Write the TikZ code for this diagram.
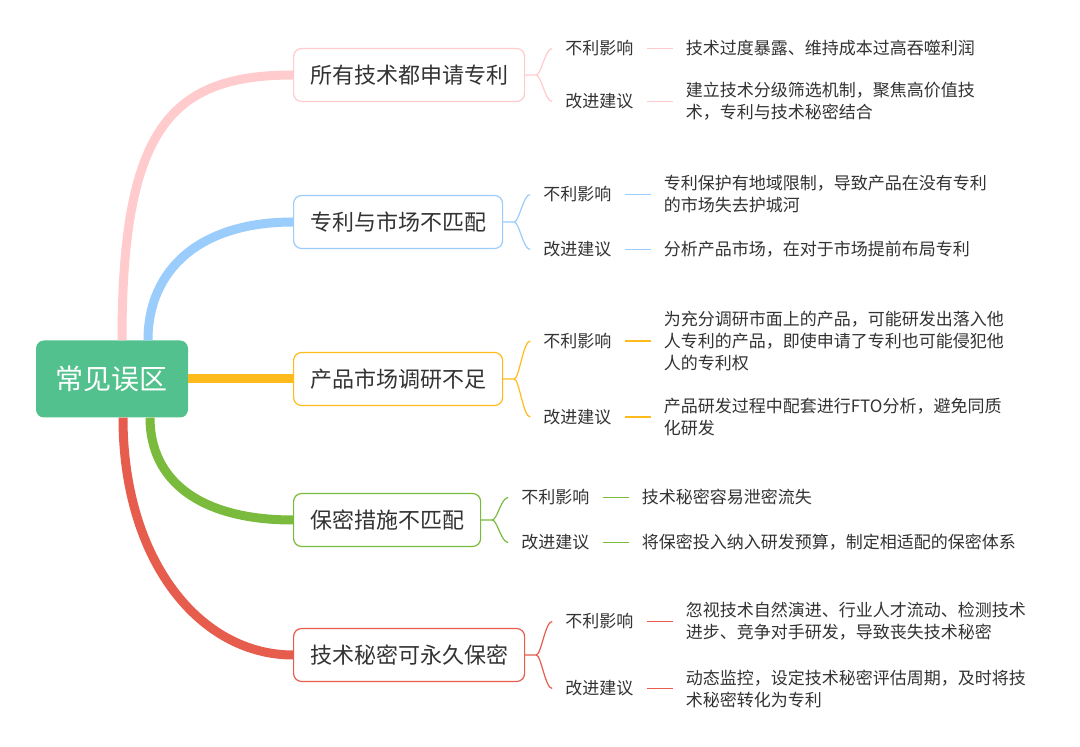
\documentclass[tikz,border=0pt]{standalone}
\usepackage{fontspec}
\setmainfont{Noto Sans CJK SC}
\usepackage{tikz}
\usetikzlibrary{positioning}
\definecolor{rootgreen}{HTML}{52C18D}
\definecolor{cpink}{HTML}{FFCBCD}
\definecolor{cblue}{HTML}{9ACCFC}
\definecolor{cyellow}{HTML}{FFBB1C}
\definecolor{cgreen}{HTML}{7ABB3E}
\definecolor{cred}{HTML}{E65D4E}
\definecolor{txt}{HTML}{333333}

\begin{document}
\begin{tikzpicture}[x=1pt,y=1pt,
    rootbox/.style={rounded corners=8pt,fill=rootgreen,text=white,minimum width=152pt,minimum height=77pt,font=\fontsize{28}{34}\selectfont},
    topic/.style={draw=#1,line width=1.2pt,rounded corners=8pt,fill=white,anchor=west,minimum height=53pt,inner xsep=16.5pt,text=txt,font=\fontsize{22}{26}\selectfont},
    subtopic/.style={inner xsep=13pt,inner ysep=2pt,text=txt,font=\fontsize{17}{22}\selectfont},
    detailtext/.style={subtopic,align=left},
    limb/.style={draw=#1,line width=9pt},
    twig/.style={draw=#1,line width=1.2pt}]
                                      \useasboundingbox (0,0) rectangle (1080,747);
                                      \fill[white] (0,0) rectangle (1080,747);
                                      \node[rootbox](root)at(112,368){常见误区};
                                      \node[topic=cpink](b1)at(293,672){所有技术都申请专利};
                                      \node[topic=cblue](b2)at(293,525){专利与市场不匹配};
                                      \node[topic=cyellow](b3)at(293,368){产品市场调研不足};
                                      \node[topic=cgreen](b4)at(293,227){保密措施不匹配};
                                      \node[topic=cred](b5)at(293,92){技术秘密可永久保密};
                                      \draw[limb=cpink]([xshift=10pt]root.north) .. controls +(0,211) and +(-123,0) .. (b1.west);
                                      \draw[limb=cblue]([xshift=36pt]root.north) .. controls +(0,71) and +(-93,0) .. (b2.west);
                                      \draw[limb=cyellow](root.east)--(b3.west);
                                      \draw[limb=cgreen]([xshift=38pt]root.south) .. controls +(0,-63) and +(-93,0) .. (b4.west);
                                      \draw[limb=cred]([xshift=11pt]root.south) .. controls +(0,-143) and +(-93,0) .. (b5.west);
                                      \node[subtopic,right=27pt of b1,yshift=26.5pt](b1a){不利影响};
                                      \node[subtopic,right=27pt of b1,yshift=-26.5pt](b1b){改进建议};
                                      \node[detailtext,right=26pt of b1a](d1a){技术过度暴露、维持成本过高吞噬利润};
                                      \node[detailtext,right=26pt of b1b](d1b){建立技术分级筛选机制，聚焦高价值技\\术，专利与技术秘密结合};
                                      \node[subtopic,right=27pt of b2,yshift=27.5pt](b2a){不利影响};
                                      \node[subtopic,right=27pt of b2,yshift=-27.5pt](b2b){改进建议};
                                      \node[detailtext,right=26pt of b2a](d2a){专利保护有地域限制，导致产品在没有专利\\的市场失去护城河};
                                      \node[detailtext,right=26pt of b2b](d2b){分析产品市场，在对于市场提前布局专利};
                                      \node[subtopic,right=27pt of b3,yshift=38pt](b3a){不利影响};
                                      \node[subtopic,right=27pt of b3,yshift=-38pt](b3b){改进建议};
                                      \node[detailtext,right=26pt of b3a](d3a){为充分调研市面上的产品，可能研发出落入他\\人专利的产品，即使申请了专利也可能侵犯他\\人的专利权};
                                      \node[detailtext,right=26pt of b3b](d3b){产品研发过程中配套进行FTO分析，避免同质\\化研发};
                                      \node[subtopic,right=27pt of b4,yshift=22.5pt](b4a){不利影响};
                                      \node[subtopic,right=27pt of b4,yshift=-22.5pt](b4b){改进建议};
                                      \node[detailtext,right=26pt of b4a](d4a){技术秘密容易泄密流失};
                                      \node[detailtext,right=26pt of b4b](d4b){将保密投入纳入研发预算，制定相适配的保密体系};
                                      \node[subtopic,right=27pt of b5,yshift=33.5pt](b5a){不利影响};
                                      \node[subtopic,right=27pt of b5,yshift=-33.5pt](b5b){改进建议};
                                      \node[detailtext,right=26pt of b5a](d5a){忽视技术自然演进、行业人才流动、检测技术\\进步、竞争对手研发，导致丧失技术秘密};
                                      \node[detailtext,right=26pt of b5b](d5b){动态监控，设定技术秘密评估周期，及时将技\\术秘密转化为专利};
                                      \draw[twig=cpink](b1.east)--++(11,0)coordinate(j1) .. controls +(5,0) and +(-7,0) .. (b1a.west) (j1) .. controls +(5,0) and +(-7,0) .. (b1b.west);
                                      \draw[twig=cblue](b2.east)--++(11,0)coordinate(j2) .. controls +(5,0) and +(-7,0) .. (b2a.west) (j2) .. controls +(5,0) and +(-7,0) .. (b2b.west);
                                      \draw[twig=cyellow](b3.east)--++(11,0)coordinate(j3) .. controls +(5,0) and +(-7,0) .. (b3a.west) (j3) .. controls +(5,0) and +(-7,0) .. (b3b.west);
                                      \draw[twig=cgreen](b4.east)--++(11,0)coordinate(j4) .. controls +(5,0) and +(-7,0) .. (b4a.west) (j4) .. controls +(5,0) and +(-7,0) .. (b4b.west);
                                      \draw[twig=cred](b5.east)--++(11,0)coordinate(j5) .. controls +(5,0) and +(-7,0) .. (b5a.west) (j5) .. controls +(5,0) and +(-7,0) .. (b5b.west);
                                      \draw[twig=cpink](b1a)--(d1a);
                                      \draw[twig=cpink](b1b)--(d1b);
                                      \draw[twig=cblue](b2a)--(d2a);
                                      \draw[twig=cblue](b2b)--(d2b);
                                      \draw[twig=cyellow](b3a)--(d3a);
                                      \draw[twig=cyellow](b3b)--(d3b);
                                      \draw[twig=cgreen](b4a)--(d4a);
                                      \draw[twig=cgreen](b4b)--(d4b);
                                      \draw[twig=cred](b5a)--(d5a);
                                      \draw[twig=cred](b5b)--(d5b);
                                  \end{tikzpicture}
\end{document}
